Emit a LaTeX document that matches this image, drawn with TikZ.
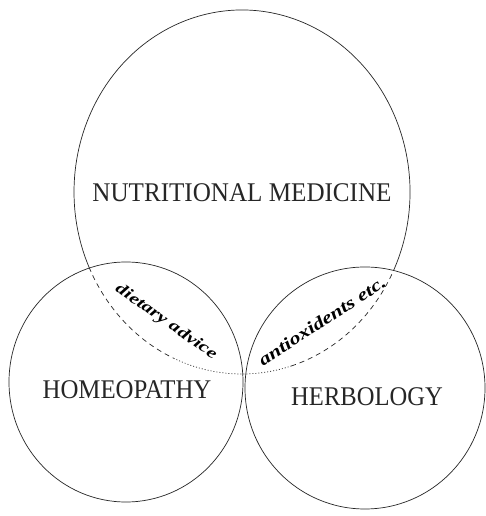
\documentclass[tikz,border=0pt]{standalone}
\usepackage{fontspec}
\setmainfont{Liberation Serif}
\begin{document}
\begin{tikzpicture}[x=1pt,y=1pt,
  ln/.style={line width=0.7pt, draw=black!85},
  big/.style={font=\fontsize{27}{27}\selectfont, inner sep=0pt, text=black!85},
  small/.style={font=\bfseries\itshape, inner sep=0pt}]
\useasboundingbox[fill=white] (0,0) rectangle (486,516);
% top ellipse (Nutritional medicine): solid upper part, dashed lower part
\coordinate (tc) at (242,324);
\draw[ln] (tc) ++(-24.4:168pt and 182pt) arc[start angle=-24.4, end angle=204.4, x radius=168pt, y radius=182pt];
\draw[ln, dash pattern=on 5pt off 4pt] (tc) ++(204.4:168pt and 182pt) arc[start angle=204.4, end angle=246, x radius=168pt, y radius=182pt];
\draw[ln, dash pattern=on 1pt off 2pt] (tc) ++(246:168pt and 182pt) arc[start angle=246, end angle=287, x radius=168pt, y radius=182pt];
\draw[ln, dash pattern=on 5pt off 4pt] (tc) ++(287:168pt and 182pt) arc[start angle=287, end angle=335.6, x radius=168pt, y radius=182pt];
% left and right circles
\draw[ln] (126,134) ellipse[x radius=117pt, y radius=120pt];
\draw[ln] (365,128) ellipse[x radius=120pt, y radius=121pt];
% labels
\node[big] (nm) at (242,323) {\scalebox{0.93}[1]{NUTRITIONAL MEDICINE}};
\node[big] (ho) at (127,126) {\scalebox{0.92}[1]{HOMEOPATHY}};
\node[big] (he) at (367,119) {\scalebox{0.91}[1]{HERBOLOGY}};
\node[small, rotate=-35] (da) at (166,194) {\resizebox{120pt}{11pt}{dietary advice}};
\node[small, rotate=33] (ax) at (322,195) {\resizebox{148pt}{12pt}{antioxidents etc.}};
\end{tikzpicture}
\end{document}
